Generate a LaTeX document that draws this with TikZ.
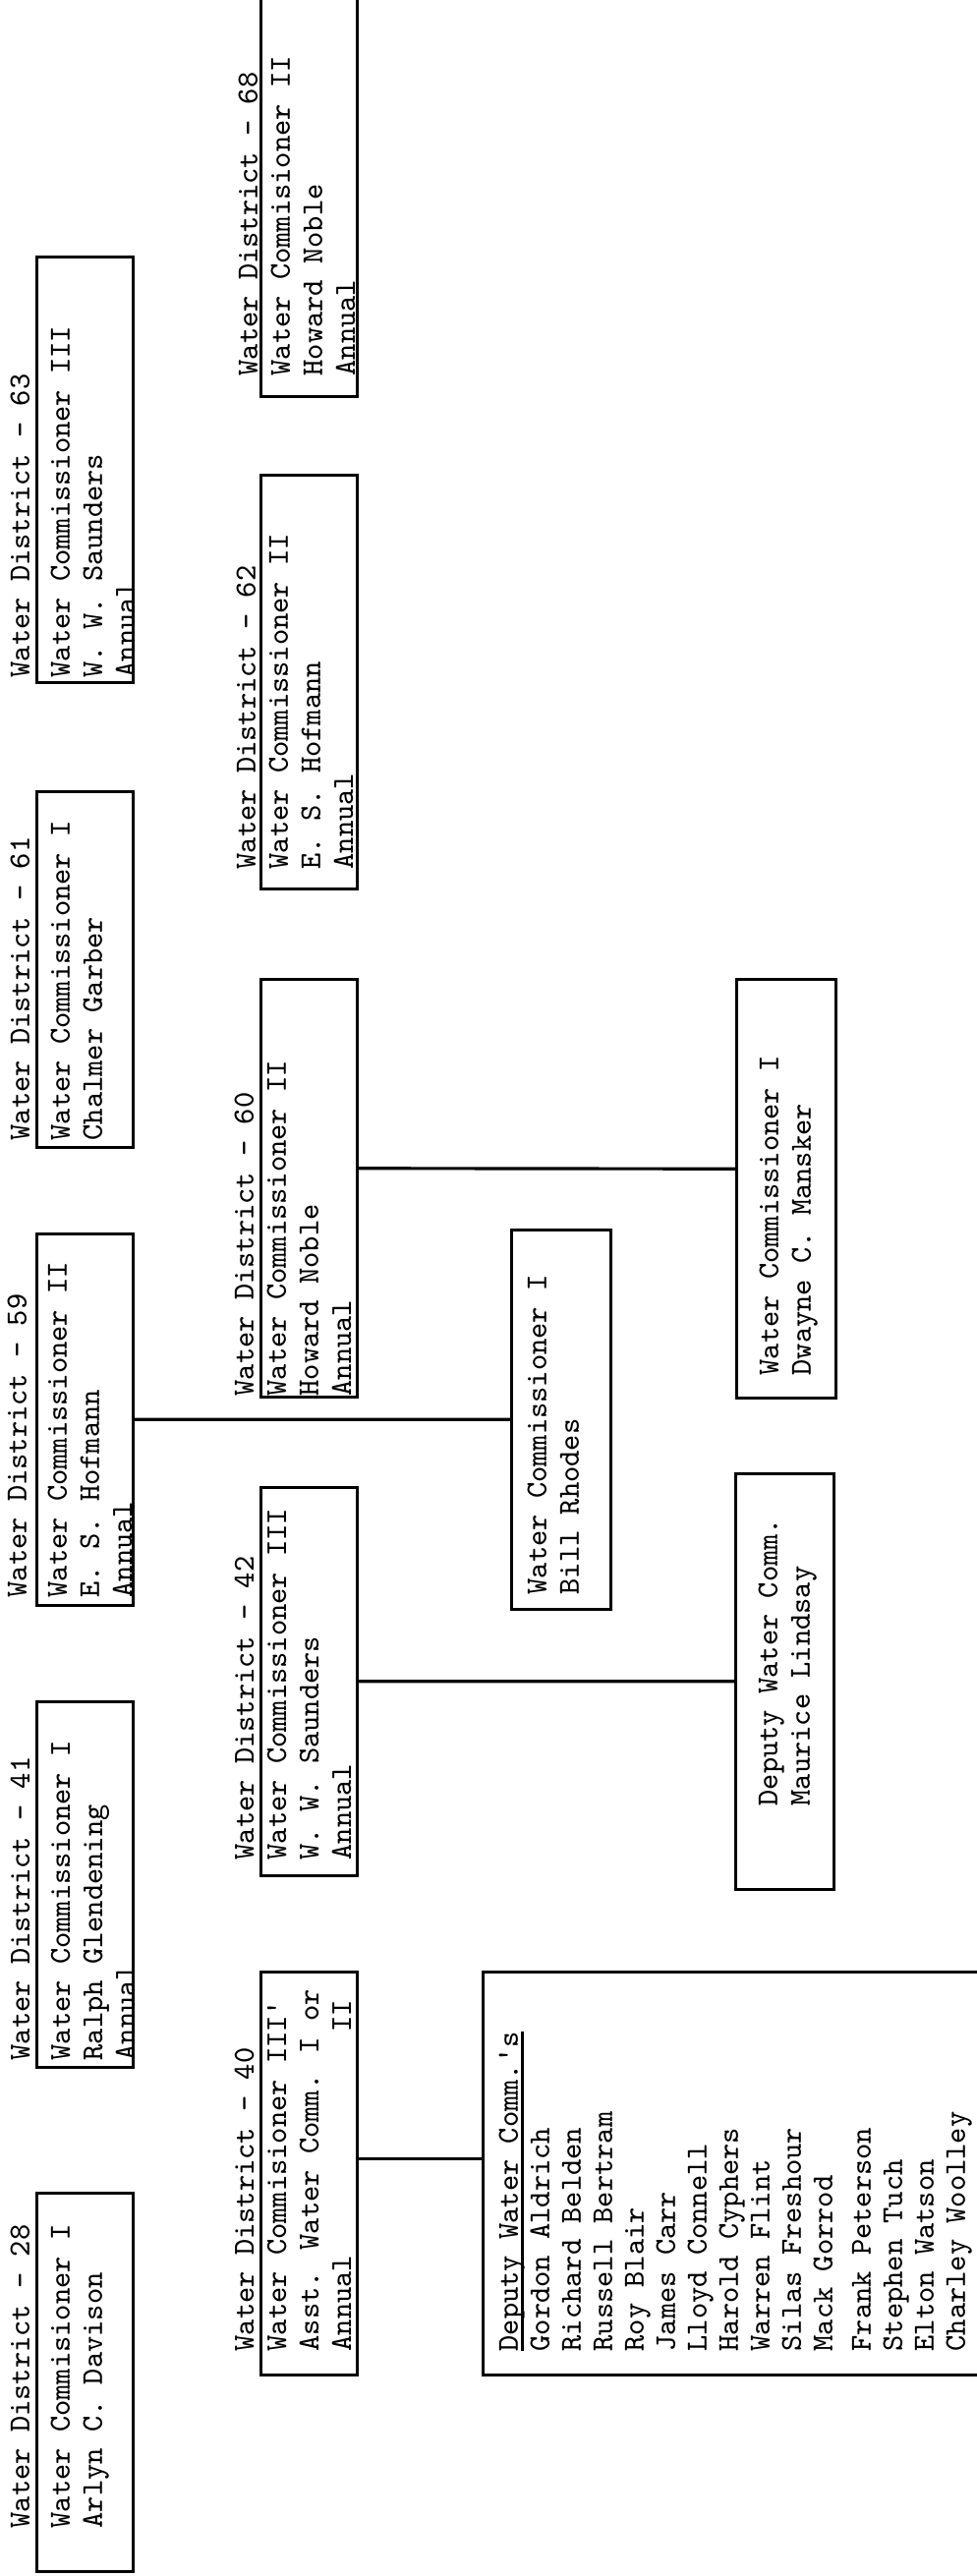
\documentclass[tikz,border=0pt]{standalone}
\tikzset{wbox/.style={draw,line width=.9pt,inner sep=0pt,anchor=north west,minimum height=.98cm},
  wtext/.style={anchor=north west,inner sep=0pt,align=left,font=\typed},
  wline/.style={line width=.9pt}}
\newcommand*{\typed}{\ttfamily\fontsize{8.8}{9.39}\selectfont}
\newcommand*{\tb}[1]{\hspace*{#1\fontdimen2\font}}
\newcommand*{\ul}[2]{\rlap{\rule[-1.6pt]{#1em}{.8pt}}#2}

\begin{document}
\begin{tikzpicture}[x=.01cm,y=.01cm,rotate=90,transform shape]
\path[use as bounding box,fill=white] (0,0) rectangle (2621,-994);
\foreach \n/\x/\w in {28/3/3.85,41/516/3.72,59/986/3.78,61/1452/3.62,63/1925/4.33}
  \node[wbox,minimum width=\w cm] (d\n) at (\x,-36) {};
\foreach \n/\x/\w in {40/203/4.10,42/711/3.95,60/1198/4.25,62/1715/4.21,68/2216/4.30}
  \node[wbox,minimum width=\w cm] (d\n) at (\x,-264) {};
\node[wbox,minimum width=4.10cm,minimum height=5.3cm] (dep) at (203,-490) {};
\node[wbox,minimum width=3.86cm,minimum height=1.01cm] (bill) at (982,-519) {};
\node[wbox,minimum width=4.26cm,minimum height=1.01cm] (mansker) at (1197,-748) {};
\node[wbox,minimum width=4.23cm,minimum height=1.00cm] (maurice) at (697,-747) {};
\node[wtext] (t28) at (48,-10) {Water District - 28\\[.8mm]Water Commisioner I\\Arlyn C. Davison};
\node[wtext] (t41) at (524,-10) {Water District - 41\\[.8mm]Water Commissioner I\\Ralph Glendening\\Annual};
\node[wtext] (t59) at (995,-7) {Water District - 59\\[.8mm]Water Commissioner II\\E. S. Hofmann\\Annual};
\node[wtext] (t61) at (1460,-10) {Water District - 61\\[.8mm]Water Commissioner I\\Chalmer Garber};
\node[wtext] (t63) at (1931,-10) {Water District - 63\\[.8mm]Water Commissioner III\\W. W. Saunders\\Annual};
\node[wtext] (t40) at (228,-238) {Water District - 40\\Water Commisioner III'\\Asst. Water Comm. I or\\Annual\tb{14}II};
\node[wtext] (t42) at (728,-238) {Water District - 42\\Water Commissioner III\\W. W. Saunders\\Annual};
\node[wtext] (t60) at (1200,-238) {Water District - 60\\Water Commissioner II\\Howard Noble\\Annual};
\node[wtext] (t62) at (1736,-240) {Water District - 62\\Water Commissioner II\\E. S. Hofmann\\Annual};
\node[wtext] (t68) at (2238,-242) {Water District - 68\\Water Commisioner II\\Howard Noble\\Annual};
\node[wtext,font=\ttfamily\fontsize{8.8}{9.1}\selectfont] (tdep) at (228,-507)
  {\ul{10.5}{Deputy Water Comm.'s}\\Gordon Aldrich\\Richard Belden\\Russell Bertram\\Roy Blair\\James Carr\\Lloyd Connell\\Harold Cyphers\\Warren Flint\\Silas Freshour\\Mack Gorrod\\[.7mm]Frank Peterson\\Stephen Tuch\\Elton Watson\\Charley Woolley};
\node[wtext] (tbill) at (998,-536) {Water Commissioner I\\Bill Rhodes};
\node[wtext] (tmansker) at (1221,-772) {Water Commissioner I\\Dwayne C. Mansker};
\node[wtext] (tmaurice) at (783,-771) {Deputy Water Comm.\\Maurice Lindsay};
\draw[wline] ([xshift=1.5mm]d40.south) -- ([xshift=1.5mm]dep.north);
\draw[wline] (d42.south) -- (maurice.north);
\draw[wline] (d59.south) -- (bill.north);
\draw[wline] ([xshift=2mm]d60.south) -- ([xshift=2mm]mansker.north);
\end{tikzpicture}
\end{document}
